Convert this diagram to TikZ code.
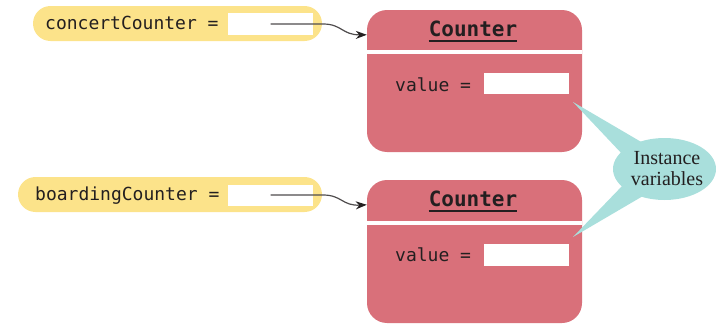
\documentclass[tikz,border=0pt]{standalone}
\usepackage{fontspec}
\setmainfont{Liberation Serif}
\setmonofont{DejaVu Sans Mono}
\usetikzlibrary{arrows.meta,calc,shapes.geometric}

\definecolor{pillyellow}{HTML}{FCE38A}
\definecolor{objred}{HTML}{D9707A}
\definecolor{noteteal}{HTML}{A9DFDC}
\definecolor{ink}{HTML}{231F20}

\begin{document}
\begin{tikzpicture}[x=1pt,y=-1pt,
  pill/.style={fill=pillyellow, rounded corners=17.5pt, inner sep=0pt},
  slot/.style={fill=white, inner sep=0pt, minimum width=85pt},
  objbox/.style={fill=objred, rounded corners=20pt, inner sep=0pt,
                 minimum width=215pt},
  codetext/.style={font=\ttfamily\fontsize{18}{20}\selectfont, text=ink,
                   inner sep=0pt, anchor=base west},
  classname/.style={font=\ttfamily\bfseries\fontsize{21}{24}\selectfont,
                    text=ink, inner sep=0pt, anchor=base},
  divider/.style={white, line width=3.5pt},
  underl/.style={ink, line width=1.4pt},
  refarrow/.style={draw=ink!80, line width=1.2pt,
                   -{Stealth[length=11pt,width=8pt,color=ink]}},
  note/.style={fill=noteteal, ellipse, inner sep=0pt,
               minimum width=103pt, minimum height=62pt},
  notetext/.style={font=\fontsize{20}{21}\selectfont, text=ink,
                   align=center, inner sep=0pt}
]
\useasboundingbox (0,0) rectangle (716,324);

% variables holding references
\node[pill, minimum width=289pt, minimum height=35pt] (p1) at (177.5,23.5) {};
\node[slot, minimum height=22pt] (r1) at (270.5,24) {};
\node[codetext] (l1) at (45,30) {concertCounter =};

\node[pill, minimum width=304pt, minimum height=35pt] (p2) at (170,194.5) {};
\node[slot, minimum height=21pt] (r2) at (270.5,195) {};
\node[codetext] (l2) at (35,200.5) {boardingCounter =};

% the two Counter objects
\node[objbox, minimum height=142pt] (c1) at (474.5,81) {};
\draw[divider] (c1.west |- 0,52) -- (c1.east |- 0,52);
\node[classname] (h1) at (473,36) {Counter};
\draw[underl] ($(h1.base west)+(0,5)$) -- ($(h1.base east)+(0,5)$);
\node[codetext] (v1) at (395,91.5) {value =};
\node[slot, minimum height=21pt] (s1) at (526.5,83.5) {};

\node[objbox, minimum height=143pt] (c2) at (474.5,251.5) {};
\draw[divider] (c2.west |- 0,223) -- (c2.east |- 0,223);
\node[classname] (h2) at (473,206) {Counter};
\draw[underl] ($(h2.base west)+(0,5)$) -- ($(h2.base east)+(0,5)$);
\node[codetext] (v2) at (395,261.5) {value =};
\node[slot, minimum height=22pt] (s2) at (526.5,255) {};

% references
\draw[refarrow] (r1.center) -- (323,24)
  .. controls (342,24) and (342,35) .. ($(c1.north west)+(0,25)$);
\draw[refarrow] (r2.center) -- (323,195)
  .. controls (342,195) and (342,206) .. ($(c2.north west)+(0,25)$);

% callout for the instance variables
\coordinate (t1) at (573,102);
\coordinate (t2) at (573,237);
\node[note] (iv) at (664.5,169) {};
\fill[noteteal] (t1) -- (643,143) -- (624,156) -- cycle;
\fill[noteteal] (t2) -- (624,184) -- (643,196) -- cycle;
\node[notetext] (ivt) at (667,169) {Instance\\variables};
\end{tikzpicture}
\end{document}
